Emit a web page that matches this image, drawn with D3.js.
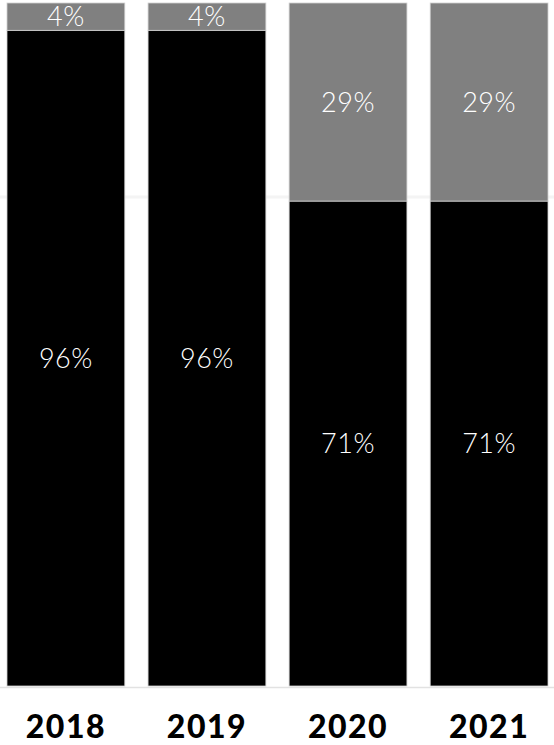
<!DOCTYPE html>
<html>
<head>
<meta charset="utf-8">
<script src="https://cdn.jsdelivr.net/npm/d3@7/dist/d3.min.js"></script>
<style>
  html, body { margin: 0; padding: 0; background: #ffffff; }
  svg { display: block; }
</style>
</head>
<body>
<div id="chart"></div>
<script>
// Categories and stacked shares (percent of each year's total)
const years = ["2018", "2019", "2020", "2021"];
const bottomShare = [96, 96, 71, 71];
const topShare = [4, 4, 29, 29];
const seriesKeys = ["bottom", "top"];
const seriesColors = ["#000000", "#808080"];

const width = 554, height = 745;
const plot = { left: 7, right: 548, top: 3, bottom: 686 };

const rows = years.map((y, i) => ({ year: y, bottom: bottomShare[i], top: topShare[i] }));
const stacked = d3.stack().keys(seriesKeys)(rows);

const x = d3.scaleBand()
  .domain(years)
  .range([plot.left, plot.right])
  .paddingInner(0.165)
  .paddingOuter(0);

const y = d3.scaleLinear()
  .domain([0, 100])
  .range([plot.bottom, plot.top]);

const color = d3.scaleOrdinal().domain(seriesKeys).range(seriesColors);

const svg = d3.select("#chart").append("svg")
  .attr("width", width)
  .attr("height", height);

// faint horizontal guide and baseline
svg.append("line")
  .attr("x1", 0).attr("x2", width)
  .attr("y1", 197).attr("y2", 197)
  .attr("stroke", "#f4f4f4").attr("stroke-width", 3);

svg.append("line")
  .attr("x1", 0).attr("x2", width)
  .attr("y1", plot.bottom + 1.5).attr("y2", plot.bottom + 1.5)
  .attr("stroke", "#e2e2e2").attr("stroke-width", 1.5);

// stacked bars
const layers = svg.append("g").selectAll("g")
  .data(stacked)
  .join("g")
  .attr("fill", d => color(d.key));

layers.selectAll("rect")
  .data(d => d.map(v => ({ key: d.key, y0: v[0], y1: v[1], year: v.data.year })))
  .join("rect")
  .attr("x", d => x(d.year))
  .attr("width", x.bandwidth())
  .attr("y", d => y(d.y1))
  .attr("height", d => y(d.y0) - y(d.y1))
  .attr("stroke", "#cfcfcf")
  .attr("stroke-width", 0.8);

// value labels centred in each segment
layers.selectAll("text")
  .data(d => d.map(v => ({ y0: v[0], y1: v[1], year: v.data.year })))
  .join("text")
  .attr("x", d => x(d.year) + x.bandwidth() / 2)
  .attr("y", d => (y(d.y0) + y(d.y1)) / 2 + 3)
  .attr("text-anchor", "middle")
  .attr("dominant-baseline", "middle")
  .attr("fill", "#ffffff")
  .attr("font-family", "Lato, 'Open Sans', sans-serif")
  .attr("font-weight", 300)
  .attr("font-size", 27)
  .attr("letter-spacing", 0.5)
  .text(d => (d.y1 - d.y0) + "%");

// category axis
const xAxis = svg.append("g")
  .attr("transform", `translate(0, ${plot.bottom})`)
  .call(d3.axisBottom(x).tickSize(0).tickPadding(29));

xAxis.select(".domain").remove();
xAxis.selectAll("text")
  .attr("fill", "#000000")
  .attr("font-family", "Lato, 'Open Sans', sans-serif")
  .attr("font-weight", 900)
  .attr("font-size", 32)
  .attr("letter-spacing", 1.5);
</script>
</body>
</html>
